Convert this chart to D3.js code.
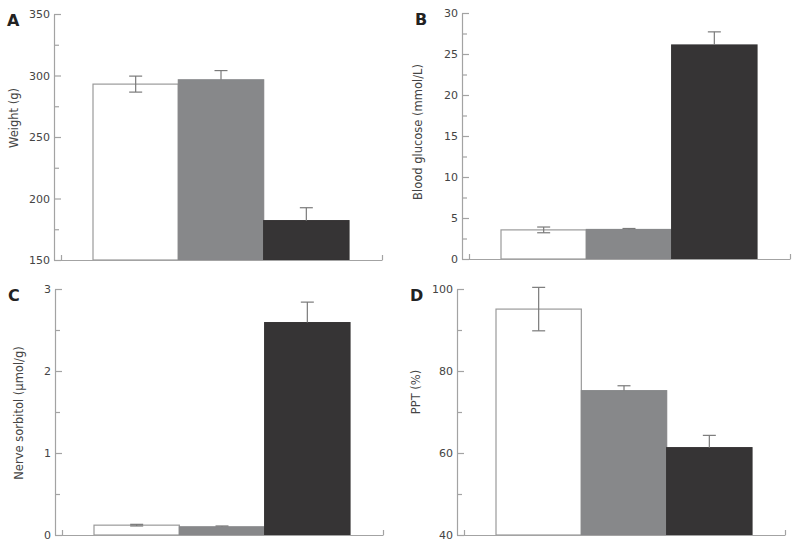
<!DOCTYPE html>
<html>
<head>
    <script src="https://cdn.jsdelivr.net/npm/d3@7/dist/d3.min.js"></script>
</head>

<style>
    body { margin: 0; background: white; }
    .axis path, .axis line { stroke: #a3a3a3; stroke-width: 1.2px; }
    .axis text { fill: #444; font-family: "DejaVu Sans", Verdana, sans-serif; font-size: 11px; }
    .panel-letter { font-family: "DejaVu Sans", sans-serif; font-weight: bold; font-size: 16px; fill: #222; }
    .ylabel { font-family: "DejaVu Sans", sans-serif; font-size: 11.5px; fill: #444; }
</style>

<body>
<div id="chart"></div>

<script>

    // three groups, same order in every panel
    var groups = ['control', 'group2', 'group3'];
    var barColors = ['#ffffff', '#87888a', '#363435'];

    // A: body weight (g)
    var weightMean = [293, 296.5, 182];
    var weightSE = [6.5, 7.5, 10.5];

    // B: blood glucose (mmol/L)
    var glucoseMean = [3.55, 3.6, 26.1];
    var glucoseSE = [0.35, 0.12, 1.6];

    // C: nerve sorbitol (umol/g)
    var sorbitolMean = [0.12, 0.1, 2.59];
    var sorbitolSE = [0.01, 0.01, 0.25];

    // D: PPT (%)
    var pptMean = [95.1, 75.2, 61.3];
    var pptSE = [5.3, 1.2, 3.0];

    var panels = [
        { letter: 'A', label: 'Weight (g)', mean: weightMean, se: weightSE,
          domain: [150, 350], major: [150, 200, 250, 300, 350], minor: [175, 225, 275, 325],
          x: 54, y: 14, labelX: -40, labelY: 104 },
        { letter: 'B', label: 'Blood glucose (mmol/L)', mean: glucoseMean, se: glucoseSE,
          domain: [0, 30], major: [0, 5, 10, 15, 20, 25, 30], minor: [2.5, 7.5, 12.5, 17.5, 22.5, 27.5],
          x: 462, y: 13, labelX: -44, labelY: 119 },
        { letter: 'C', label: 'Nerve sorbitol (\u03bcmol/g)', mean: sorbitolMean, se: sorbitolSE,
          domain: [0, 3], major: [0, 1, 2, 3], minor: [0.5, 1.5, 2.5],
          x: 55, y: 289, labelX: -36, labelY: 124 },
        { letter: 'D', label: 'PPT (%)', mean: pptMean, se: pptSE,
          domain: [40, 100], major: [40, 60, 80, 100], minor: [50, 70, 90],
          x: 457, y: 289, labelX: -41, labelY: 103 }
    ];

    var plotWidth = 328;
    var plotHeight = 246;

    var svg = d3.select('#chart').append('svg')
        .attr('width', 800)
        .attr('height', 547);

    var xScale = d3.scaleBand()
        .domain(groups)
        .range([39, 295])
        .padding(0);

    var edgeScale = d3.scaleLinear()
        .domain([0, plotWidth])
        .range([0, plotWidth]);

    panels.forEach(function(p) {
        var g = svg.append('g')
            .attr('transform', 'translate(' + p.x + ', ' + p.y + ')');

        var yScale = d3.scaleLinear()
            .domain(p.domain)
            .range([plotHeight, 0]);

        var data = groups.map(function(k, i) {
            return { key: k, mean: p.mean[i], se: p.se[i], color: barColors[i], idx: i };
        });

        // bars
        g.selectAll('rect.bar')
            .data(data)
            .enter()
            .append('rect')
            .attr('class', 'bar')
            .attr('x', function(d) { return xScale(d.key); })
            .attr('width', xScale.bandwidth())
            .attr('y', function(d) { return yScale(d.mean); })
            .attr('height', function(d) { return plotHeight - yScale(d.mean); })
            .attr('fill', function(d) { return d.color; })
            .attr('stroke', function(d) { return d.idx === 0 ? '#9a9a9a' : d.color; })
            .attr('stroke-width', 1.2);

        // error bars - lower whisker only visible on the white bar
        var err = g.selectAll('g.err')
            .data(data)
            .enter()
            .append('g')
            .attr('class', 'err')
            .attr('stroke', '#7a7a7a')
            .attr('stroke-width', 1.2);

        var cx = function(d) { return xScale(d.key) + xScale.bandwidth() / 2; };

        err.append('line')
            .attr('x1', cx).attr('x2', cx)
            .attr('y1', function(d) { return yScale(d.mean + d.se); })
            .attr('y2', function(d) { return d.idx === 0 ? yScale(d.mean - d.se) : yScale(d.mean); });

        err.append('line')
            .attr('x1', function(d) { return cx(d) - 6.5; })
            .attr('x2', function(d) { return cx(d) + 6.5; })
            .attr('y1', function(d) { return yScale(d.mean + d.se); })
            .attr('y2', function(d) { return yScale(d.mean + d.se); });

        err.filter(function(d) { return d.idx === 0; })
            .append('line')
            .attr('x1', function(d) { return cx(d) - 6.5; })
            .attr('x2', function(d) { return cx(d) + 6.5; })
            .attr('y1', function(d) { return yScale(d.mean - d.se); })
            .attr('y2', function(d) { return yScale(d.mean - d.se); });

        // y axis: major ticks with labels, pointing inward
        g.append('g')
            .attr('class', 'axis')
            .call(d3.axisLeft(yScale)
                .tickValues(p.major)
                .tickSizeInner(-7)
                .tickSizeOuter(0)
                .tickPadding(4)
                .tickFormat(d3.format('d')));

        // minor ticks
        g.append('g')
            .attr('class', 'axis')
            .call(d3.axisLeft(yScale)
                .tickValues(p.minor)
                .tickSizeInner(-5)
                .tickSizeOuter(0)
                .tickFormat(''))
            .select('.domain').remove();

        // x axis baseline with small end ticks
        g.append('g')
            .attr('class', 'axis')
            .attr('transform', 'translate(0,' + plotHeight + ')')
            .call(d3.axisBottom(edgeScale)
                .tickValues([7, plotWidth])
                .tickSizeInner(-5)
                .tickSizeOuter(0)
                .tickFormat(''));

        g.append('text')
            .attr('class', 'panel-letter')
            .attr('x', -47)
            .attr('y', 12)
            .text(p.letter);

        g.append('text')
            .attr('class', 'ylabel')
            .attr('text-anchor', 'middle')
            .attr('transform', 'translate(' + p.labelX + ',' + p.labelY + ') rotate(-90)')
            .attr('dy', '0.35em')
            .text(p.label);
    });

</script>
</body>
</html>
